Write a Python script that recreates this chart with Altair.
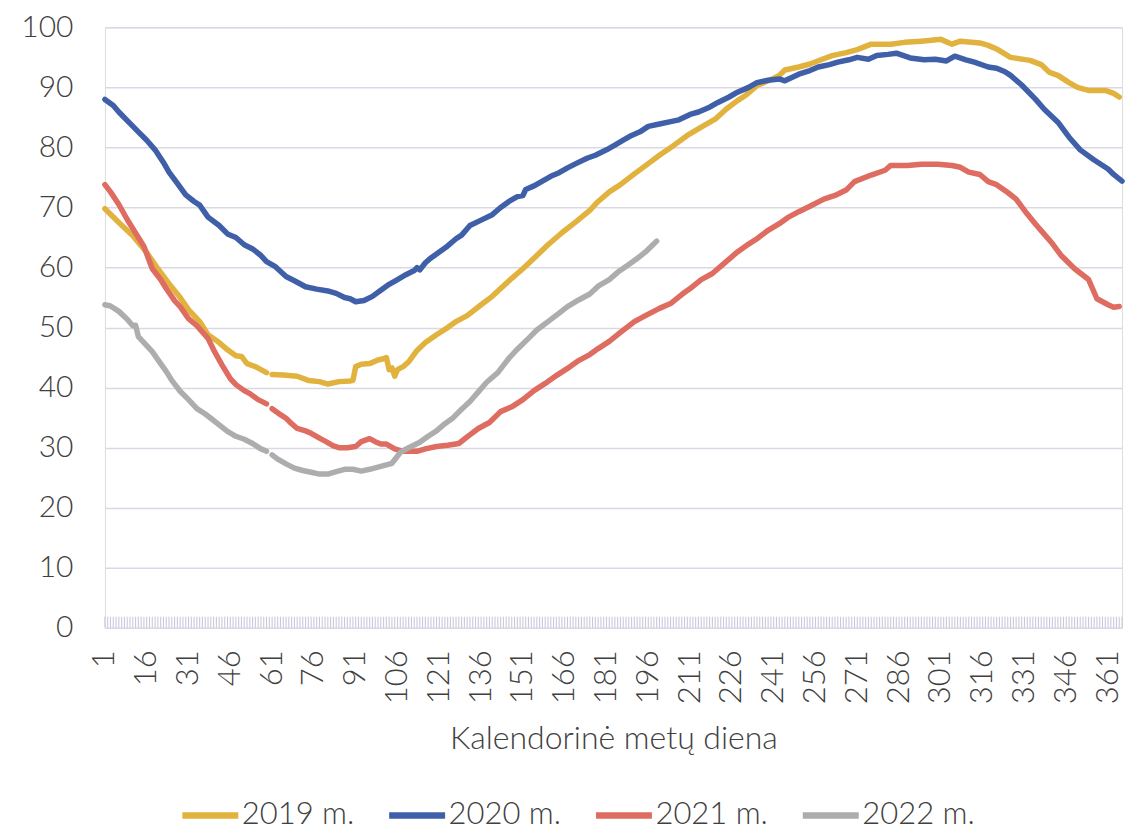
import altair as alt
import pandas as pd

series_names = ["2019 m.", "2020 m.", "2021 m.", "2022 m."]
series_colors = ["#E1B33E", "#3F5FA8", "#DE6C60", "#ADADAD"]

days_2019 = [1, 6, 11, 16, 20, 24, 28, 31, 35, 38, 42, 45, 48, 50, 52, 55, 59, 60, 61, 65, 70, 74, 78, 81, 85, 89, 90,
             91, 93, 96, 99, 101, 102, 103, 104, 105, 106, 108, 110, 113, 116, 120, 124, 127, 131, 136, 140, 143, 147,
             151, 156, 160, 165, 170, 175, 178, 182, 186, 191, 196, 200, 205, 210, 215, 220, 224, 228, 231, 235, 240,
             243, 245, 250, 254, 258, 262, 267, 271, 276, 283, 288, 294, 301, 305, 308, 315, 318, 321, 326, 333, 337,
             340, 343, 347, 350, 354, 360, 363, 365]
vals_2019 = [69.8, 67.5, 65.3, 62.5, 59.8, 57.3, 55.0, 53.0, 51.0, 48.8, 47.5, 46.3, 45.3, 45.2, 44.0, 43.5, 42.5, None,
             42.2, 42.1, 41.9, 41.2, 41.0, 40.6, 41.0, 41.1, 41.2, 43.5, 43.9, 44.0, 44.6, 44.8, 45.0, 43.0, 43.3, 41.9,
             43.0, 43.5, 44.3, 46.2, 47.5, 48.8, 50.0, 51.0, 52.0, 53.8, 55.2, 56.5, 58.2, 59.8, 62.0, 63.8, 65.8, 67.6,
             69.5, 71.0, 72.6, 73.8, 75.6, 77.3, 78.7, 80.3, 82.0, 83.4, 84.7, 86.4, 87.8, 88.7, 90.3, 91.3, 92.0, 92.9,
             93.4, 93.9, 94.6, 95.3, 95.8, 96.3, 97.2, 97.2, 97.5, 97.7, 98.0, 97.2, 97.7, 97.4, 97.0, 96.4, 95.0, 94.5,
             93.8, 92.5, 92.0, 90.8, 90.0, 89.5, 89.5, 89.0, 88.4]

days_2020 = [1, 4, 6, 10, 13, 16, 19, 22, 24, 27, 30, 33, 35, 38, 42, 45, 48, 51, 54, 57, 59, 62, 66, 69, 73, 77, 81,
             84, 87, 89, 91, 94, 97, 100, 103, 106, 109, 112, 113, 114, 116, 118, 121, 124, 127, 129, 132, 136, 140,
             143, 146, 149, 151, 152, 155, 158, 161, 164, 167, 170, 174, 177, 181, 184, 187, 190, 193, 196, 200, 204,
             207, 211, 214, 218, 221, 225, 228, 232, 235, 239, 243, 245, 250, 254, 257, 261, 264, 268, 271, 275, 278,
             282, 285, 290, 295, 299, 303, 306, 310, 313, 318, 321, 324, 326, 330, 335, 338, 343, 347, 351, 356, 361,
             363, 366]
vals_2020 = [88.0, 87.0, 85.9, 84.0, 82.6, 81.2, 79.6, 77.5, 75.9, 74.0, 72.1, 71.0, 70.4, 68.4, 67.0, 65.6, 65.0, 63.8,
             63.1, 62.0, 61.0, 60.2, 58.5, 57.8, 56.8, 56.4, 56.1, 55.7, 55.0, 54.8, 54.3, 54.5, 55.2, 56.2, 57.2, 58.0,
             58.8, 59.5, 60.0, 59.6, 60.8, 61.6, 62.6, 63.6, 64.8, 65.4, 67.0, 67.9, 68.8, 70.0, 71.0, 71.8, 72.0, 73.0,
             73.6, 74.4, 75.2, 75.8, 76.6, 77.3, 78.2, 78.7, 79.6, 80.4, 81.2, 82.0, 82.6, 83.5, 83.9, 84.3, 84.6, 85.5,
             85.9, 86.7, 87.5, 88.4, 89.2, 90.0, 90.8, 91.2, 91.4, 91.1, 92.2, 92.8, 93.4, 93.8, 94.2, 94.6, 95.0, 94.7,
             95.3, 95.5, 95.7, 94.9, 94.6, 94.7, 94.4, 95.2, 94.6, 94.2, 93.4, 93.2, 92.6, 92.0, 90.4, 88.0, 86.4, 84.2,
             81.7, 79.6, 77.9, 76.4, 75.5, 74.4]

days_2021 = [1, 3, 6, 9, 13, 15, 18, 21, 23, 26, 28, 31, 34, 38, 40, 43, 46, 48, 51, 53, 56, 59, 60, 61, 64, 66, 68,
             70, 73, 75, 78, 80, 83, 85, 88, 91, 93, 96, 98, 100, 102, 105, 108, 113, 116, 120, 124, 128, 131, 135,
             139, 143, 147, 151, 155, 159, 163, 167, 171, 175, 178, 182, 186, 191, 195, 200, 204, 208, 211, 215, 219,
             223, 228, 232, 235, 239, 243, 246, 250, 254, 259, 263, 267, 270, 276, 281, 283, 289, 294, 300, 305, 308,
             311, 315, 318, 321, 325, 328, 332, 335, 338, 341, 344, 349, 354, 357, 361, 363, 365]
vals_2021 = [73.8, 72.6, 70.5, 68.0, 65.0, 63.5, 59.8, 58.0, 56.5, 54.5, 53.5, 51.5, 50.3, 48.2, 46.3, 43.8, 41.5, 40.5,
             39.5, 39.0, 38.0, 37.3, None, 36.5, 35.5, 34.9, 34.0, 33.2, 32.8, 32.4, 31.6, 31.1, 30.3, 30.0, 30.0, 30.2,
             31.0, 31.5, 31.0, 30.6, 30.6, 29.8, 29.4, 29.4, 29.8, 30.2, 30.4, 30.7, 31.8, 33.2, 34.2, 36.0, 36.8, 38.0,
             39.5, 40.7, 42.0, 43.2, 44.5, 45.5, 46.5, 47.7, 49.2, 51.0, 52.0, 53.2, 54.0, 55.5, 56.5, 58.0, 59.0, 60.6,
             62.6, 63.9, 64.8, 66.2, 67.3, 68.3, 69.3, 70.2, 71.4, 72.0, 72.9, 74.3, 75.4, 76.2, 77.0, 77.0, 77.2, 77.2,
             77.0, 76.7, 75.9, 75.5, 74.3, 73.8, 72.5, 71.4, 68.9, 67.2, 65.6, 64.0, 62.1, 59.8, 58.0, 54.8, 53.8, 53.4,
             53.5]

days_2022 = [1, 3, 6, 9, 11, 12, 13, 15, 18, 21, 23, 25, 28, 31, 34, 37, 39, 42, 45, 48, 51, 54, 57, 59, 60, 61, 63,
             66, 69, 72, 75, 78, 81, 84, 87, 90, 93, 96, 100, 104, 107, 110, 114, 117, 120, 123, 126, 129, 132, 135,
             138, 142, 146, 149, 153, 156, 160, 164, 167, 171, 175, 178, 182, 185, 189, 192, 195, 197, 199]
vals_2022 = [53.8, 53.6, 52.7, 51.4, 50.3, 50.4, 48.5, 47.5, 46.0, 44.0, 42.7, 41.2, 39.4, 38.0, 36.5, 35.6, 34.9, 33.8,
             32.7, 31.9, 31.4, 30.7, 29.8, 29.4, None, 28.8, 28.1, 27.3, 26.6, 26.2, 25.9, 25.6, 25.6, 26.0, 26.4, 26.4,
             26.1, 26.4, 26.9, 27.4, 29.2, 30.0, 30.9, 31.9, 32.8, 34.0, 35.0, 36.4, 37.7, 39.3, 40.9, 42.5, 44.9, 46.4,
             48.2, 49.6, 51.0, 52.4, 53.5, 54.6, 55.6, 56.9, 58.0, 59.2, 60.5, 61.5, 62.6, 63.5, 64.4]

x_tick_values = list(range(1, 362, 15))
y_tick_values = list(range(0, 101, 10))
x_title = "Kalendorinė metų diena"

rows = []
for name, ds, vs in zip(series_names,
                        [days_2019, days_2020, days_2021, days_2022],
                        [vals_2019, vals_2020, vals_2021, vals_2022]):
    for d, v in zip(ds, vs):
        rows.append({"diena": d, "reiksme": v, "metai": name})
df = pd.DataFrame(rows)

tick_df = pd.DataFrame({"d": list(range(1, 367))})

FONT = "Lato"
TXT = "#404040"

x_scale = alt.Scale(domain=[1, 366], nice=False, zero=False)
y_scale = alt.Scale(domain=[0, 100], nice=False)

hatch = alt.Chart(tick_df).mark_rule(color="#c9c9dc", strokeWidth=1.1).encode(
    x=alt.X("d:Q", scale=x_scale),
    y=alt.Y("y0:Q", scale=y_scale),
    y2="y1:Q",
).transform_calculate(y0="0", y1="1.85")

lines = alt.Chart(df).mark_line(
    strokeWidth=5.5, strokeCap="round", strokeJoin="round",
    invalid="break-paths-show-domains"
).encode(
    x=alt.X("diena:Q", scale=x_scale,
            axis=alt.Axis(values=x_tick_values, labelAngle=270, labelPadding=22,
                          ticks=False, domain=False, grid=False,
                          labelFontSize=31, labelFont=FONT, labelFontWeight=300, labelColor=TXT,
                          title=x_title, titleFontSize=32, titleFont=FONT, titleFontWeight=300,
                          titleColor=TXT, titlePadding=20, labelOverlap=False)),
    y=alt.Y("reiksme:Q", scale=y_scale,
            axis=alt.Axis(values=y_tick_values, ticks=False, domain=False, grid=True,
                          gridColor="#d9d9e6", gridWidth=1.5, labelPadding=32,
                          labelFontSize=30, labelFont=FONT, labelFontWeight=300, labelColor=TXT,
                          title=None)),
    color=alt.Color("metai:N",
                    scale=alt.Scale(domain=series_names, range=series_colors),
                    legend=alt.Legend(orient="none", legendX=74, legendY=757, direction="horizontal",
                                      title=None, symbolType="stroke", symbolStrokeWidth=6.5,
                                      symbolSize=3136, labelFontSize=31, labelFont=FONT,
                                      labelFontWeight=300,
                                      labelColor=TXT, labelOffset=0, columnPadding=21, labelLimit=300)),
    order=alt.Order("diena:Q"),
)

chart = alt.layer(hatch, lines).properties(
    width=1018, height=601,
    autosize=alt.AutoSizeParams(type="none"),
    padding={"left": 97, "top": 19, "right": 14, "bottom": 205},
).configure_view(stroke=None).configure(background="white")

chart.save("out.html", embed_options={"renderer": "svg", "actions": False})
